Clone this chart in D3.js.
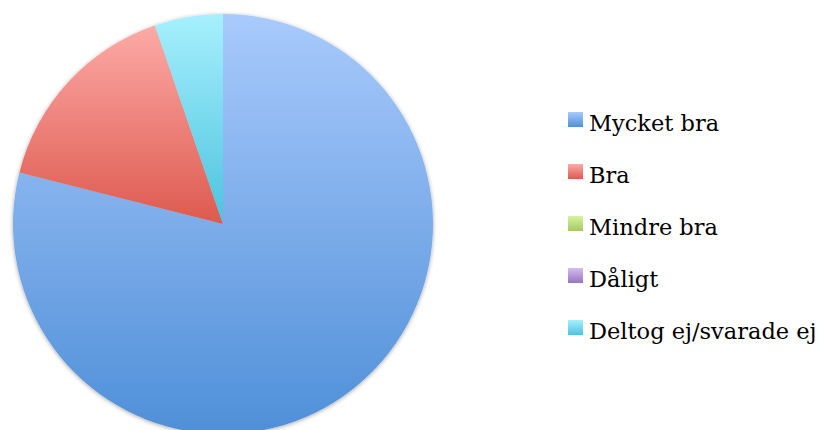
<!DOCTYPE html>
<html>
<head>
<meta charset="utf-8">
<script src="https://cdn.jsdelivr.net/npm/d3@7"></script>
<style>
  body { margin: 0; background: #fff; }
  .legend text { font-family: "DejaVu Serif", "Liberation Serif", serif; font-size: 22.5px; fill: #000; }
</style>
</head>
<body>
<div id="chart"></div>
<script>
// data
var categories = ["Mycket bra", "Bra", "Mindre bra", "Dåligt", "Deltog ej/svarade ej"];
var counts = [15, 3, 0, 0, 1];
var topColors = ["#a9cafc", "#fdaaa6", "#d6f2a4", "#d3bdec", "#a6f0fd"];
var bottomColors = ["#4f8fd8", "#dd5a4f", "#a6ca5c", "#9676bf", "#4cc3df"];

var width = 821, height = 430;
var cx = 223, cy = 224, radius = 210;

var svg = d3.select("#chart").append("svg")
    .attr("width", width)
    .attr("height", height)

var defs = svg.append("defs")

// soft shadow round the pie
var filter = defs.append("filter")
    .attr("id", "shadow")
    .attr("x", "-10%").attr("y", "-10%")
    .attr("width", "120%").attr("height", "120%")
filter.append("feDropShadow")
    .attr("dx", 0).attr("dy", 1)
    .attr("stdDeviation", 2)
    .attr("flood-color", "#000")
    .attr("flood-opacity", 0.35)

categories.forEach(function (c, i) {
    var grad = defs.append("linearGradient")
        .attr("id", "grad" + i)
        .attr("x1", 0).attr("y1", 0)
        .attr("x2", 0).attr("y2", 1)
    grad.append("stop").attr("offset", "0%").attr("stop-color", topColors[i])
    grad.append("stop").attr("offset", "100%").attr("stop-color", bottomColors[i])
})

var data = categories.map(function (c, i) {
    return { name: c, value: counts[i], idx: i }
})

var pie = d3.pie()
    .sort(null)
    .value(function (d) { return d.value; })

var arc = d3.arc()
    .innerRadius(0)
    .outerRadius(radius)

var g = svg.append("g")
    .attr("transform", "translate(" + cx + "," + cy + ")")
    .attr("filter", "url(#shadow)")

g.selectAll("path")
    .data(pie(data).filter(function (d) { return d.value > 0; }))
    .enter()
    .append("path")
    .attr("d", arc)
    .attr("fill", function (d) { return "url(#grad" + d.data.idx + ")"; })

//legend
var legend = svg.append("g")
    .attr("class", "legend")
    .attr("transform", "translate(568,112)")

var item = legend.selectAll("g")
    .data(data)
    .enter()
    .append("g")
    .attr("transform", function (d, i) { return "translate(0," + (i * 52) + ")"; })

item.append("rect")
    .attr("width", 15)
    .attr("height", 15)
    .attr("fill", function (d) { return "url(#grad" + d.idx + ")"; })

item.append("text")
    .attr("x", 21)
    .attr("y", 19)
    .text(function (d) { return d.name; })
</script>
</body>
</html>
